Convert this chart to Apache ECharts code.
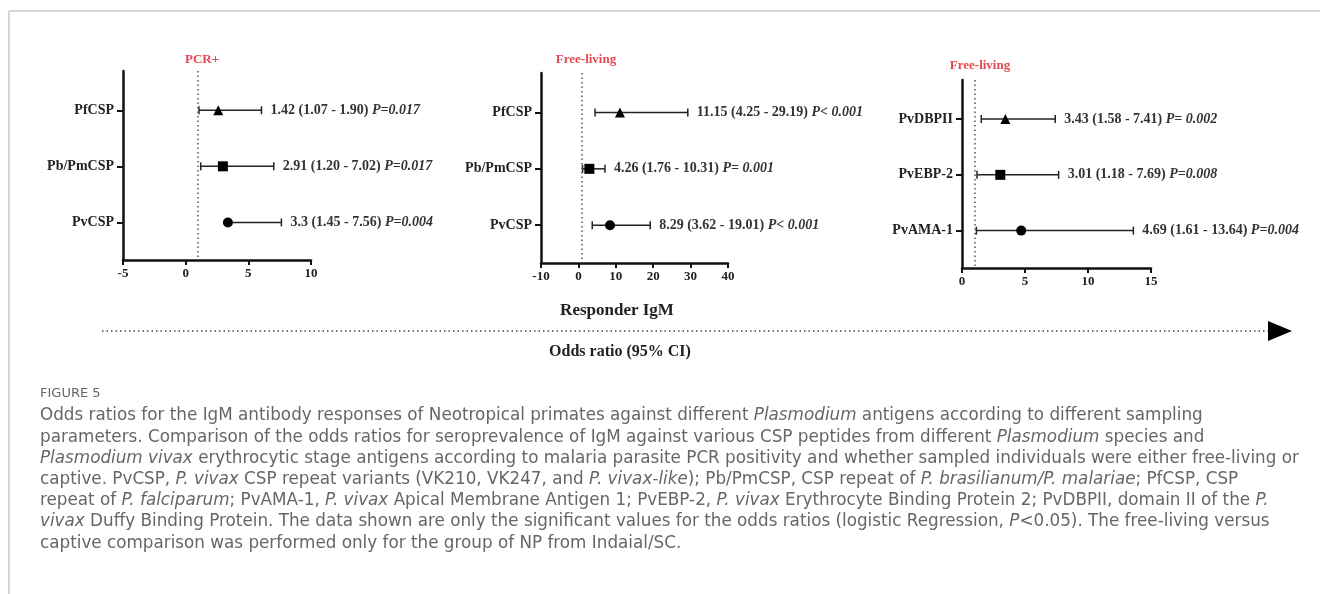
<!DOCTYPE html>
<html>
<head>
<meta charset="utf-8">
<script src="https://cdn.jsdelivr.net/npm/echarts@6/dist/echarts.min.js"></script>
<style>
  html, body { margin: 0; padding: 0; background: #fff; }
  #chart { width: 1320px; height: 594px; }
</style>
</head>
<body>
<div id="chart"></div>
<script>
// panel 1: PCR+
var pcrCats = ['PfCSP', 'Pb/PmCSP', 'PvCSP'];
var pcrOr = [2.6, 2.97, 3.37];
var pcrLow = [1.06, 1.2, 3.37];
var pcrHigh = [6.05, 7.03, 7.64];
var pcrText = ['1.42 (1.07 - 1.90)', '2.91 (1.20 - 7.02)', '3.3 (1.45 - 7.56)'];
var pcrP = ['P=0.017', 'P=0.017', 'P=0.004'];

// panel 2: free-living, CSP peptides
var freeCats = ['PfCSP', 'Pb/PmCSP', 'PvCSP'];
var freeOr = [11.1, 2.93, 8.45];
var freeLow = [4.45, 1.1, 3.7];
var freeHigh = [29.25, 7.1, 19.2];
var freeText = ['11.15 (4.25 - 29.19)', '4.26 (1.76 - 10.31)', '8.29 (3.62 - 19.01)'];
var freeP = ['P< 0.001', 'P= 0.001', 'P< 0.001'];

// panel 3: free-living, P. vivax antigens
var vivCats = ['PvDBPII', 'PvEBP-2', 'PvAMA-1'];
var vivOr = [3.44, 3.04, 4.7];
var vivLow = [1.53, 1.19, 1.14];
var vivHigh = [7.4, 7.67, 13.6];
var vivText = ['3.43 (1.58 - 7.41)', '3.01 (1.18 - 7.69)', '4.69 (1.61 - 13.64)'];
var vivP = ['P= 0.002', 'P=0.008', 'P=0.004'];

var markerShapes = ['triangle', 'rect', 'circle'];
var rowPos = [1, 2, 3];

var xTicks = [
  { min: -5, max: 10, interval: 5 },
  { min: -10, max: 40, interval: 10 },
  { min: 0, max: 15, interval: 5 }
];

var serif = '"Liberation Serif", "DejaVu Serif", serif';
var sans = '"DejaVu Sans", "Open Sans", sans-serif';

var panels = [
  { cats: pcrCats, or: pcrOr, low: pcrLow, high: pcrHigh, text: pcrText, p: pcrP },
  { cats: freeCats, or: freeOr, low: freeLow, high: freeHigh, text: freeText, p: freeP },
  { cats: vivCats, or: vivOr, low: vivLow, high: vivHigh, text: vivText, p: vivP }
];

var grids = [
  { left: 123, top: 71, width: 188, height: 189 },
  { left: 541, top: 73, width: 187, height: 190 },
  { left: 962, top: 80, width: 189, height: 188 }
];

var xAxes = [], yAxes = [], series = [];

panels.forEach(function (pn, i) {
  xAxes.push({
    type: 'value', gridIndex: i,
    min: xTicks[i].min, max: xTicks[i].max, interval: xTicks[i].interval,
    splitLine: { show: false },
    axisLine: { show: true, onZero: false, lineStyle: { color: '#111', width: 2.5 } },
    axisTick: { show: true, length: 5, lineStyle: { color: '#111', width: 2 } },
    axisLabel: { margin: 7, color: '#222', fontFamily: serif, fontWeight: 'bold', fontSize: 13 }
  });
  yAxes.push({
    type: 'value', gridIndex: i, inverse: true,
    min: 0.3, max: 3.67,
    splitLine: { show: false },
    axisLine: { show: true, onZero: false, lineStyle: { color: '#111', width: 2.5 } },
    axisTick: { show: true, length: 6, customValues: rowPos, lineStyle: { color: '#111', width: 2 } },
    axisLabel: {
      margin: 9, customValues: rowPos, color: '#222',
      fontFamily: serif, fontWeight: 'bold', fontSize: 14,
      formatter: function (v) { return pn.cats[Math.round(v) - 1] || ''; }
    }
  });

  // error bars + value labels
  series.push({
    type: 'custom', xAxisIndex: i, yAxisIndex: i,
    data: rowPos.map(function (r, k) { return [pn.low[k], pn.high[k], r]; }),
    encode: { x: [0, 1], y: 2 },
    renderItem: function (params, api) {
      var k = params.dataIndex;
      var a = api.coord([api.value(0), api.value(2)]);
      var b = api.coord([api.value(1), api.value(2)]);
      var st = { stroke: '#222', lineWidth: 1.5 };
      return {
        type: 'group',
        children: [
          { type: 'line', shape: { x1: a[0], y1: a[1], x2: b[0], y2: b[1] }, style: st },
          { type: 'line', shape: { x1: a[0], y1: a[1] - 4, x2: a[0], y2: a[1] + 4 }, style: st },
          { type: 'line', shape: { x1: b[0], y1: b[1] - 4, x2: b[0], y2: b[1] + 4 }, style: st },
          {
            type: 'text', x: b[0] + 9, y: b[1],
            style: {
              text: pn.text[k] + ' {i|' + pn.p[k] + '}',
              fill: '#333', font: 'bold 14px ' + serif,
              verticalAlign: 'middle', align: 'left',
              rich: { i: { fontStyle: 'italic', fontWeight: 'bold', fontSize: 14, fontFamily: serif, fill: '#333' } }
            }
          }
        ]
      };
    },
    z: 2
  });

  // point estimates + reference line at OR = 1
  series.push({
    type: 'scatter', xAxisIndex: i, yAxisIndex: i,
    data: rowPos.map(function (r, k) {
      return { value: [pn.or[k], r], symbol: markerShapes[k], symbolSize: 10 };
    }),
    itemStyle: { color: '#000', opacity: 1 },
    z: 3,
    markLine: {
      silent: true, symbol: 'none', label: { show: false },
      lineStyle: { color: '#555', type: [1.5, 3], width: 1.5 },
      data: [{ xAxis: 1 }]
    }
  });
});

var captionLines = [
  'Odds ratios for the IgM antibody responses of Neotropical primates against different {i|Plasmodium} antigens according to different sampling',
  'parameters. Comparison of the odds ratios for seroprevalence of IgM against various CSP peptides from different {i|Plasmodium} species and',
  '{i|Plasmodium vivax} erythrocytic stage antigens according to malaria parasite PCR positivity and whether sampled individuals were either free-living or',
  'captive. PvCSP, {i|P. vivax} CSP repeat variants (VK210, VK247, and {i|P. vivax-like}); Pb/PmCSP, CSP repeat of {i|P. brasilianum/P. malariae}; PfCSP, CSP',
  'repeat of {i|P. falciparum}; PvAMA-1, {i|P. vivax} Apical Membrane Antigen 1; PvEBP-2, {i|P. vivax} Erythrocyte Binding Protein 2; PvDBPII, domain II of the {i|P.}',
  '{i|vivax} Duffy Binding Protein. The data shown are only the significant values for the odds ratios (logistic Regression, {i|P}<0.05). The free-living versus',
  'captive comparison was performed only for the group of NP from Indaial/SC.'
];

var graphics = [
  { type: 'line', shape: { x1: 9, y1: 11, x2: 1320, y2: 11 }, style: { stroke: '#c8c8c8', lineWidth: 1.5 } },
  { type: 'line', shape: { x1: 9, y1: 11, x2: 9, y2: 594 }, style: { stroke: '#c8c8c8', lineWidth: 1.5 } },
  { type: 'text', x: 202, y: 60, style: { text: 'PCR+', font: 'bold 13px ' + serif, fill: '#e8474f', align: 'center', verticalAlign: 'middle' } },
  { type: 'text', x: 586, y: 60, style: { text: 'Free-living', font: 'bold 13px ' + serif, fill: '#e8474f', align: 'center', verticalAlign: 'middle' } },
  { type: 'text', x: 980, y: 66, style: { text: 'Free-living', font: 'bold 13px ' + serif, fill: '#e8474f', align: 'center', verticalAlign: 'middle' } },
  { type: 'text', x: 617, y: 311, style: { text: 'Responder IgM', font: 'bold 17px ' + serif, fill: '#222', align: 'center', verticalAlign: 'middle' } },
  { type: 'line', shape: { x1: 102, y1: 331, x2: 1268, y2: 331 }, style: { stroke: '#444', lineWidth: 1.5, lineDash: [1.5, 3] } },
  { type: 'polygon', shape: { points: [[1268, 321], [1292, 331], [1268, 341]] }, style: { fill: '#000' } },
  { type: 'text', x: 620, y: 352, style: { text: 'Odds ratio (95% CI)', font: 'bold 16px ' + serif, fill: '#222', align: 'center', verticalAlign: 'middle' } },
  { type: 'text', x: 40, y: 394, style: { text: 'FIGURE 5', font: '13px ' + sans, fill: '#666', verticalAlign: 'middle' } }
];

captionLines.forEach(function (line, k) {
  graphics.push({
    type: 'text', x: 40, y: 416 + k * 21.2,
    style: {
      text: line, font: '16.8px ' + sans, fill: '#666', verticalAlign: 'middle',
      rich: { i: { fontStyle: 'italic', fontSize: 16.8, fontFamily: sans, fill: '#666' } }
    }
  });
});

var chart = echarts.init(document.getElementById('chart'));
chart.setOption({
  animation: false,
  backgroundColor: '#fff',
  grid: grids,
  xAxis: xAxes,
  yAxis: yAxes,
  series: series,
  graphic: graphics
});
</script>
</body>
</html>
